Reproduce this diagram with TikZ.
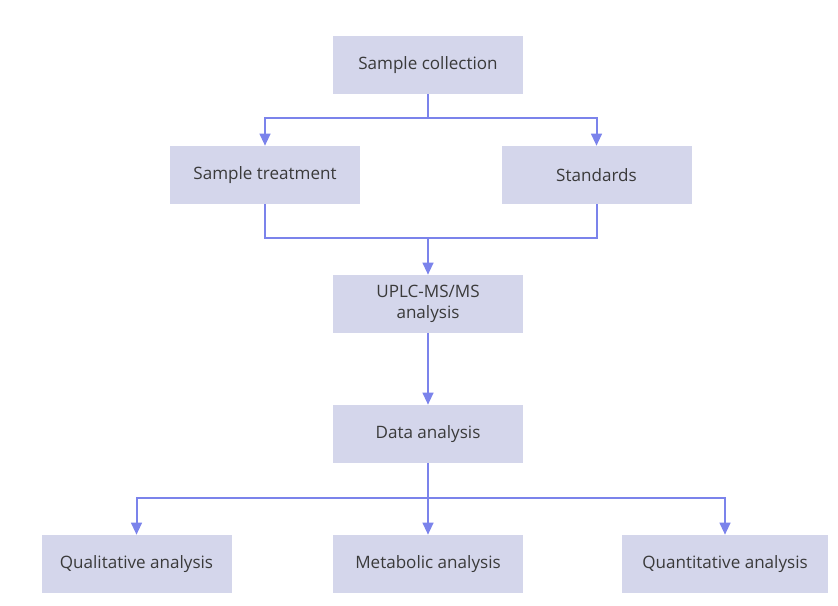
\documentclass[tikz,border=0pt]{standalone}
\usepackage{fontspec}
\setmainfont{Open Sans}
\usetikzlibrary{arrows.meta,positioning}
\definecolor{BoxFill}{HTML}{D4D6EB}
\definecolor{FlowLine}{HTML}{7B83EB}
\definecolor{BoxText}{HTML}{3A3A3A}

\begin{document}
\begin{tikzpicture}[x=0.75pt,y=-0.75pt,
  stepbox/.style={fill=BoxFill,draw=none,text=BoxText,
    minimum width=142.5pt,minimum height=43.5pt,inner sep=2pt,
    align=center,font=\fontsize{12.8}{15.5}\selectfont},
  link/.style={FlowLine,line width=1.5pt},
  flow/.style={link,-{Triangle[length=9pt,width=8pt]}}]
  \useasboundingbox (0,0) rectangle (838,606);
  % --- boxes ---
  \node[stepbox] (coll)  at (428,65)    {Sample collection};
  \node[stepbox] (treat) at (265,175)   {Sample treatment};
  \node[stepbox] (std)   at (596.5,175) {Standards};
  \node[stepbox] (uplc)  at (428,304)   {UPLC-MS/MS\\analysis};
  \node[stepbox] (data)  at (428,434)   {Data analysis};
  \node[stepbox] (qual)  at (136.5,564) {Qualitative analysis};
  \node[stepbox] (meta)  at (428,564)   {Metabolic analysis};
  \node[stepbox,minimum width=154.5pt] (quant) at (725,564) {Quantitative analysis};
  % --- junctions ---
  \coordinate (split) at (428,118);
  \coordinate (merge) at (428,238);
  \coordinate (fan)   at (428,498);
  % --- connectors ---
  \draw[link] (coll) -- (split);
  \draw[flow] (split) -| (treat);
  \draw[flow] (split) -| (std);
  \draw[link] (treat) |- (merge);
  \draw[link] (std) |- (merge);
  \draw[flow] (merge) -- (uplc);
  \draw[flow] (uplc) -- (data);
  \draw[link] (data) -- (fan);
  \draw[flow] (fan) -| (qual);
  \draw[flow] (fan) -- (meta);
  \draw[flow] (fan) -| (quant);
\end{tikzpicture}
\end{document}
